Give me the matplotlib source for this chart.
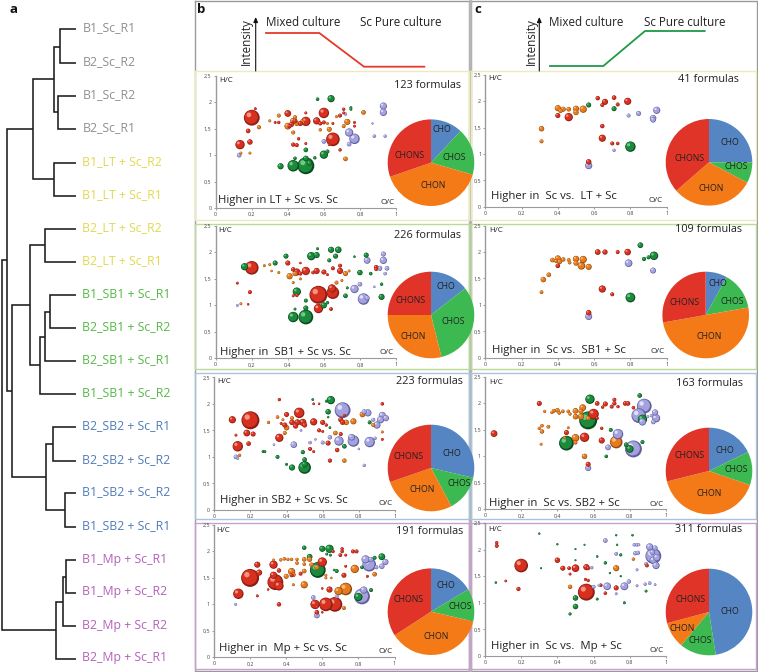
import matplotlib
matplotlib.use("Agg")
import matplotlib.pyplot as plt
import numpy as np

plt.rcParams['font.family'] = ['Open Sans', 'DejaVu Sans']

W, H = 758, 672
CLASSES = ["CHO", "CHOS", "CHON", "CHONS"]
PIE_COL = {"CHO": "#5585c2", "CHOS": "#3cb950", "CHON": "#f47a17", "CHONS": "#e03428"}
SPHERE = {"CHONS": ("#8a1f16", "#d8301f", "#f39484"),
          "CHON": ("#8a4c12", "#e87a1c", "#f8bd85"),
          "CHOS": ("#0b4a1e", "#1b8a3a", "#6ccb88"),
          "CHO": ("#5f5f9c", "#a3a2de", "#e0e0fa")}

# ---- dendrogram -------------------------------------------------------
leaf_names = ["B1_Sc_R1", "B2_Sc_R2", "B1_Sc_R2", "B2_Sc_R1", "B1_LT + Sc_R2", "B1_LT + Sc_R1",
              "B2_LT + Sc_R2", "B2_LT + Sc_R1", "B1_SB1 + Sc_R1", "B2_SB1 + Sc_R2",
              "B2_SB1 + Sc_R1", "B1_SB1 + Sc_R2", "B2_SB2 + Sc_R1", "B2_SB2 + Sc_R2",
              "B1_SB2 + Sc_R2", "B1_SB2 + Sc_R1", "B1_Mp + Sc_R1", "B1_Mp + Sc_R2",
              "B2_Mp + Sc_R2", "B2_Mp + Sc_R1"]
leaf_groups = ["#8f8f8f"] * 4 + ["#e3d84e"] * 4 + ["#55b848"] * 4 + ["#4f7cba"] * 4 + ["#b45fbb"] * 4
leaf_y = [29, 62.7, 96, 129, 162.5, 195.5, 228.5, 262, 295, 328, 361, 393.7, 427, 460.7, 493, 526.7,
          560, 592.7, 626, 659]
# merge height, top child (height, y), bottom child (height, y)
merges = [(60, (76, 29), (76, 62.7)), (58.3, (76, 96), (76, 129)),
          (54.3, (60, 46.7), (58.3, 112.3)), (53.7, (76, 162.5), (76, 195.5)),
          (32.7, (54.3, 79.3), (53.7, 179)), (45, (76, 228.5), (76, 262)),
          (50, (76, 295), (76, 328)), (45, (50, 311.7), (76, 361)),
          (39.7, (45, 336.7), (76, 393.7)), (29.7, (45, 245.3), (39.7, 365)),
          (53, (76, 427), (76, 460.7)), (64.7, (76, 493), (76, 526.7)),
          (45.7, (53, 443.7), (64.7, 510.3)), (11.7, (29.7, 305), (45.7, 476.7)),
          (7, (32.7, 129), (11.7, 390.7)), (66, (76, 560), (76, 592.7)),
          (63.3, (66, 576.7), (76, 626)), (56, (63.3, 601.7), (76, 659)),
          (1.7, (7, 260), (56, 630))]

# ---- bubbles: (O/C, H/C, radius) --------------------------------------
b1_chons = [(0.2,1.71,7),(0.135,1.2,4),(0.19,1.25,2.2),(0.18,1.46,1.8),(0.22,1.88,1),(0.4,1.79,2.8),(0.6,1.8,4.5),(0.65,1.3,6),(0.5,1.64,4),(0.56,1.65,3),(0.43,1.2,1.6),(0.45,1.19,1.5),(0.46,1.31,1.2),(0.5,1.22,1),(0.5,1.8,1),(0.44,1.65,2),(0.42,1.58,2),(0.41,1.55,1.5),(0.47,1.6,2),(0.33,1.62,1),(0.35,1.62,1.2),(0.6,1.62,1.5),(0.69,1.75,1.5),(0.71,1.87,1.2),(0.71,1.8,1),(0.77,1.62,1),(0.77,1.55,1),(0.65,1.6,1),(0.58,1.6,1.5),(0.63,1.2,1),(0.69,1.1,1.2)]
b1_chon = [(0.24,1.53,1.6),(0.19,1.04,1),(0.14,1.04,1),(0.3,1.65,1),(0.35,1.75,1.5),(0.4,1.55,2.8),(0.43,1.65,2.5),(0.44,1.72,1.5),(0.45,1.6,2),(0.48,1.63,2),(0.43,1.43,1.5),(0.63,1.49,2),(0.58,1.48,1.2),(0.73,1.63,2.5),(0.71,1.55,1.5),(0.72,0.93,1.8),(0.82,1.81,1.8),(0.62,1.6,1),(0.67,1.73,1)]
b1_chos = [(0.64,2.07,3),(0.565,2.06,1.3),(0.75,1.9,1),(0.75,1.87,1),(0.36,0.79,2.5),(0.43,0.8,5),(0.5,0.8,7.5),(0.5,0.94,2.2),(0.44,0.94,1.3),(0.5,1.1,1.8),(0.6,1.01,3.5),(0.62,1.07,1.5),(0.55,0.95,1.2),(0.52,0.85,2)]
b1_cho = [(0.93,1.93,3),(0.93,1.81,3),(0.74,1.43,3.5),(0.77,1.31,4.5),(0.74,1.21,1.8),(0.6,1.26,1.8),(0.13,1.0,1.8),(0.88,1.36,1.3),(0.94,1.36,1.2),(0.87,1.6,0.7),(0.72,1.78,1.2)]

c1_chons = [(0.4,1.73,2),(0.46,1.7,3.5),(0.62,2.06,1.7),(0.66,1.99,2.5),(0.645,1.93,1.5),(0.71,2.07,1.8),(0.73,1.94,1.5),(0.785,2.0,3),(0.645,1.53,1.7),(0.645,1.3,3),(0.7,1.2,1.5),(0.73,1.2,1.3),(0.57,0.85,2.2)]
c1_chon = [(0.31,1.48,2.2),(0.31,1.24,1.5),(0.4,1.87,2.5),(0.415,1.82,1.7),(0.43,1.85,2),(0.46,1.85,1.8),(0.5,1.86,2.5),(0.5,1.79,2.2),(0.54,1.85,3)]
c1_chos = [(0.57,1.93,2),(0.71,1.86,2),(0.8,1.14,4.5)]
c1_cho = [(0.57,0.78,3),(0.71,1.07,1.2),(0.79,1.73,1.5),(0.845,1.77,2),(0.925,1.68,2.7),(0.925,1.65,2.3),(0.945,1.83,3)]

b2_chons = [(0.2,1.71,6),(0.57,1.2,8),(0.65,1.24,5.5),(0.645,1.32,3.5),(0.57,0.94,4),(0.19,1.25,1.5),(0.12,1.42,1),(0.18,1.02,.8),(0.4,1.8,2),(0.5,1.65,3.5),(0.56,1.65,2.5),(0.6,1.63,2),(0.45,1.63,3),(0.43,1.68,1.7),(0.47,1.6,1.5),(0.65,1.7,1.5),(0.69,1.65,2.5),(0.69,1.75,1.5),(0.45,1.19,1.3),(0.43,1.18,1),(0.64,0.93,1.4),(0.89,1.72,1.8),(0.89,1.68,1.3),(0.47,1.8,.8),(0.54,1.62,1.3),(0.62,1.58,1)]
b2_chon = [(0.14,1.03,1),(0.27,1.75,1),(0.3,1.77,1),(0.31,1.65,.8),(0.35,1.62,1),(0.41,1.55,2.5),(0.44,1.6,2),(0.43,1.43,1),(0.47,1.5,1),(0.67,1.43,1.5),(0.72,1.6,2),(0.74,1.65,1),(0.7,1.47,1)]
b2_chos = [(0.16,1.73,3),(0.33,1.8,2),(0.39,1.93,2),(0.53,1.93,3.5),(0.56,1.95,2.5),(0.565,2.07,1),(0.64,2.05,2.5),(0.68,2.05,2.7),(0.665,1.93,2),(0.63,1.85,1.5),(0.45,1.26,3.5),(0.5,1.09,1.5),(0.43,0.78,4.5),(0.5,0.78,6.5),(0.5,0.95,2),(0.44,0.93,1),(0.6,1.0,2.5),(0.62,1.05,1.2),(0.72,1.18,1.8),(0.8,1.62,2.2),(0.835,1.95,2),(0.86,1.6,1.3),(0.92,1.16,2.5),(0.92,1.4,1.2),(0.73,1.33,1),(0.77,1.92,.8)]
b2_cho = [(0.12,1.0,1),(0.77,1.31,3.5),(0.8,1.4,1.8),(0.82,1.12,5),(0.84,1.14,2),(0.84,1.85,2.8),(0.93,1.85,3),(0.93,1.97,2),(0.91,1.7,2),(0.95,1.7,1.8),(0.94,1.6,1.3),(0.88,1.35,.8)]

c2_chons = [(0.4,1.74,1.8),(0.62,2.0,2.3),(0.66,2.0,2.1),(0.73,2.0,1.5),(0.785,2.0,2.7),(0.645,1.3,3),(0.7,1.2,1.5),(0.57,0.85,2.2)]
c2_chon = [(0.31,1.24,1.4),(0.32,1.48,2.2),(0.35,1.57,1.8),(0.37,1.85,1.8),(0.39,1.83,1.5),(0.4,1.88,2.5),(0.41,1.82,2),(0.43,1.86,1.7),(0.46,1.85,1.4),(0.465,1.8,1.3),(0.5,1.87,2.6),(0.5,1.79,2),(0.54,1.86,3),(0.53,1.74,3.2),(0.57,1.72,2.5)]
c2_chos = [(0.855,2.13,2.3),(0.875,1.87,1.6),(0.9,1.9,1.5),(0.93,1.93,3.6),(0.8,1.14,4.2)]
c2_cho = [(0.79,1.79,3.2),(0.925,1.65,2.4),(0.57,0.78,2.9)]

b3_chons = [(0.2,1.69,8),(0.1,1.7,3),(0.13,1.2,4.5),(0.18,1.45,2.8),(0.215,1.43,2),(0.19,1.25,1.8),(0.12,1.41,1),(0.36,1.36,3.5),(0.47,1.83,4.5),(0.36,2.08,1.2),(0.4,1.8,2),(0.39,1.6,2),(0.43,1.65,2.2),(0.46,1.65,2.5),(0.45,1.58,2),(0.49,1.65,3),(0.5,1.6,2),(0.55,1.66,3),(0.6,1.65,2),(0.58,1.5,1.5),(0.6,1.48,1),(0.62,1.6,1.2),(0.7,1.7,2),(0.71,1.65,2),(0.7,1.43,1.5),(0.63,1.26,2),(0.68,1.13,1.7),(0.53,1.15,1.5),(0.55,1.1,1),(0.64,0.93,1.6),(0.93,2.0,1.3),(0.93,1.33,1),(0.55,2.0,.9),(0.58,2.0,.8),(0.72,1.78,1.2),(0.37,1.63,1)]
b3_chon = [(0.3,1.65,1.2),(0.35,1.75,1.3),(0.38,1.7,1),(0.4,1.55,2.2),(0.39,1.45,1.5),(0.43,1.73,1.5),(0.67,1.45,1.8),(0.73,1.65,2.2),(0.77,1.67,2.5),(0.82,1.8,2.3),(0.72,0.93,1.7),(0.14,1.03,1.2),(0.88,1.6,1.5),(0.93,1.47,1)]
b3_chos = [(0.645,2.07,3.5),(0.62,2.05,1),(0.545,2.08,.9),(0.63,1.85,2.2),(0.49,1.09,1.6),(0.5,0.95,1.8),(0.35,1,1.5),(0.43,0.8,2.5),(0.5,0.8,5.5),(0.5,0.86,2.5),(0.4,.86,1),(0.72,1.2,1.8),(0.64,1.55,.9),(0.27,1.1,1),(0.28,1.1,1),(0.86,1.65,1.5),(0.63,1.75,.8)]
b3_cho = [(0.71,1.88,7),(0.85,1.83,3),(0.83,1.85,2),(0.93,1.78,3),(0.92,1.7,3),(0.95,1.73,2.5),(0.9,1.6,3),(0.88,1.7,1.5),(0.69,1.3,4),(0.77,1.3,5),(0.76,1.37,2.8),(0.86,1.28,4.5),(0.89,1.35,1.2),(0.44,1.23,2.7),(0.53,1.27,1.3),(0.6,1.27,1.5),(0.12,1,1.8),(0.13,.97,.9),(0.83,.84,1.2),(0.33,1.23,.8),(0.48,1.5,.9),(0.64,1.37,1.7),(0.56,1.33,.8),(0.8,1.15,.8)]

c3_chons = [(0.05,1.43,2.8),(0.3,2,2),(0.62,2.0,1.8),(0.65,1.93,1.2),(0.665,1.99,2),(0.7,1.94,1.5),(0.715,2.07,1.5),(0.715,2,1.6),(0.735,1.94,1.2),(0.775,2,1.8),(0.79,2,1.8),(0.82,1.92,1.3),(0.6,1.8,4.5),(0.55,1.36,4),(0.45,1.45,2),(0.645,1.3,2.5),(0.645,1.53,1.2),(0.57,.85,2),(0.62,1.72,1.2)]
c3_chon = [(0.3,1.53,1.2),(0.315,1.58,1.3),(0.315,1.47,1.7),(0.35,1.56,1.4),(0.33,1.85,1.1),(0.37,1.83,1.2),(0.38,1.86,1.5),(0.4,1.87,1.8),(0.41,1.82,1.3),(0.43,1.85,1.4),(0.46,1.85,1.3),(0.47,1.8,1.2),(0.5,1.86,2.3),(0.5,1.75,2.2),(0.53,1.85,2),(0.54,1.92,2.8),(0.53,1.75,2.5),(0.57,1.72,1.8),(0.31,1.23,1),(0.46,1.54,1),(0.5,1.35,3.2),(0.5,1.26,1.5),(0.44,1.35,1),(0.55,1.0,2.2),(0.725,1.27,5.5)]
c3_chos = [(0.58,2.08,4),(0.57,1.68,8),(0.45,1.25,6.5),(0.87,1.7,4),(0.855,2.15,1.8),(0.67,1.0,1.3),(0.8,1.14,3.2),(0.78,1.22,1.8),(0.87,1.27,1.5),(0.695,1.5,1.5)]
c3_cho = [(0.88,1.95,6.5),(0.85,1.77,6.5),(0.87,1.65,3),(0.94,1.83,2.5),(0.945,1.72,3.5),(0.93,1.65,1.8),(0.92,1.77,1.2),(0.735,1.42,4.5),(0.68,1.17,2.3),(0.82,1.14,7.5),(0.57,.78,2.5),(0.9,1.75,1)]

b4_chons = [(0.2,1.5,8),(0.135,1.2,4.5),(0.24,1.75,2.5),(0.25,1.6,2.5),(0.33,1.75,3.5),(0.33,1.55,3),(0.34,1.42,7),(0.36,1.35,4),(0.36,1.64,1.7),(0.24,1.16,1),(0.36,1,1.7),(0.56,1.0,4),(0.62,1,6),(0.67,1,6.5),(0.64,1.28,2.5),(0.6,1.8,4),(0.57,0.85,1.8),(0.6,.85,.8),(0.57,.95,1),(0.48,1.58,1.5),(0.43,1.55,1.5),(0.7,1.93,1.4),(0.71,2.05,1.2),(0.71,2.0,1.3),(0.66,2.0,1.2),(0.73,1.93,1),(0.77,2,1.5),(0.79,2,1.5),(0.72,1.55,2),(0.73,1.72,1),(0.85,1.53,1),(0.3,1.28,.8),(0.6,1.3,.8)]
b4_chon = [(0.4,1.53,2),(0.43,1.62,3),(0.44,1.56,1.8),(0.44,1.37,1),(0.5,1.63,1.8),(0.5,1.37,3),(0.33,1.84,.9),(0.37,1.84,1.2),(0.39,1.86,1.3),(0.41,1.85,1.2),(0.43,1.85,1.2),(0.46,1.85,1.2),(0.46,1.78,1.3),(0.5,1.85,1.8),(0.5,1.76,1.3),(0.53,1.85,2),(0.54,1.75,1.7),(0.57,1.7,2),(0.62,1.55,1),(0.62,1.5,1),(0.69,1.25,3.5),(0.73,1.29,5.5),(0.72,.93,1.5),(0.78,1.67,3.5),(0.89,1.57,1.8),(0.65,1.5,.8)]
b4_chos = [(0.575,1.65,7),(0.5,2.07,1.7),(0.53,1.9,2.3),(0.6,2.05,2.5),(0.64,2.05,3.5),(0.625,1.95,1),(0.645,1.93,1),(0.68,1.63,1.5),(0.87,1.27,1.5),(0.8,1.14,3.5),(0.82,1.7,1.3),(0.89,1.88,1.5),(0.93,1.9,2.8),(0.665,1.65,.8)]
b4_cho = [(0.12,1,1),(0.84,1.85,3.5),(0.86,1.75,6),(0.87,1.85,2),(0.9,1.7,1.5),(0.93,1.72,2.2),(0.95,1.8,2.5),(0.82,1.15,7),(0.83,1.27,3),(0.55,1.13,1.8),(0.57,0.79,2.3),(0.68,1.15,1.5)]

c4_chons = [(0.065,2.13,1.2),(0.065,2.07,1.5),(0.2,1.7,6),(0.185,1.26,1.6),(0.115,1.41,.9),(0.4,1.8,2.2),(0.43,1.65,2),(0.465,1.65,1.4),(0.5,1.65,3.2),(0.56,1.67,2.5),(0.57,1.65,1.5),(0.47,1.54,1),(0.555,1.44,1.1),(0.57,1.42,1.2),(0.56,1.2,7.5),(0.64,1.33,1.3),(0.665,1.18,1.3),(0.725,1.28,2),(0.895,1.7,1.4)]
c4_chon = [(0.725,1.65,2.5),(0.47,1.3,1.7),(0.82,1.82,1.2)]
c4_chos = [(0.5,1.09,2.2),(0.5,.93,2.2),(0.47,.79,1.1),(0.62,1.07,1),(0.77,1.0,1),(0.89,1.22,1),(0.665,1.75,1.2),(0.75,1.9,1.1),(0.62,1.87,.8),(0.69,1.56,.7),(0.75,1.5,.7),(0.3,2.3,.7),(0.4,2.1,.7),(0.5,2.01,.6),(0.55,2.09,.6),(0.725,2.27,.7),(0.73,2.09,.7),(0.815,2.27,.8),(0.5,1.8,.6),(0.31,1.65,.6),(0.06,1.38,.8)]
c4_cho = [(0.665,2.17,1.8),(0.725,1.92,1.4),(0.825,2.09,1.3),(0.84,2.09,1.3),(0.85,2.09,1),(0.83,1.93,1.6),(0.845,1.94,1.6),(0.91,2.05,3),(0.94,2.03,2),(0.93,1.88,7),(0.93,1.8,3),(0.95,1.85,3),(0.945,1.7,3),(0.89,1.73,1.5),(0.925,1.95,2.2),(0.675,1.31,3.2),(0.77,1.31,3.3),(0.795,1.4,1.7),(0.63,1.33,1),(0.59,1.66,1.2),(0.6,1.3,1.5),(0.725,1.17,1),(0.84,1.32,1),(0.885,1.35,1.2),(0.91,1.37,1.3),(0.94,1.34,.9),(0.84,1.62,1)]

# ---- pie shares in order CHO, CHOS, CHON, CHONS -----------------------
b1_pie = [43, 63, 145, 109]
c1_pie = [90, 28, 111, 131]
b2_pie = [52, 114, 104, 90]
c2_pie = [29, 51, 180, 100]
b3_pie = [103, 49, 99, 109]
c3_pie = [64, 45, 147, 104]
b4_pie = [59, 44, 134, 123]
c4_pie = [171, 49, 35, 105]

n_formulas = [123, 41, 226, 109, 223, 163, 191, 311]
titles = ["Higher in LT + Sc vs. Sc", "Higher in  Sc vs.  LT + Sc", "Higher in  SB1 + Sc vs. Sc",
          "Higher in  Sc vs.  SB1 + Sc", "Higher in SB2 + Sc vs. Sc", "Higher in  Sc vs. SB2 + Sc",
          "Higher in  Mp + Sc vs. Sc", "Higher in  Sc vs.  Mp + Sc"]
x_ticks = [0, 0.2, 0.4, 0.6, 0.8, 1]
x_ticklabels = ["0", "0,2", "0,4", "0,6", "0,8", "1"]
y_ticks = [0, 0.5, 1, 1.5, 2, 2.5]
y_ticklabels = ["0", "0,5", "1", "1,5", "2", "2,5"]

panels = [
    # bubbles, pie, axes px (x0,x1,ytop,ybottom), pie centre, title xy, H/C xy, O/C right/y, formula right/y
    ((b1_cho, b1_chos, b1_chon, b1_chons), b1_pie, (215.7, 396, 76, 208), (431, 162.7), (218.3, 200.7), (219.3, 80), (395, 202), (461, 85)),
    ((c1_cho, c1_chos, c1_chon, c1_chons), c1_pie, (485.3, 666.7, 75, 206.7), (709, 162.3), (490.7, 196), (488, 78), (662.7, 200), (739, 80)),
    ((b2_cho, b2_chos, b2_chon, b2_chons), b2_pie, (215.7, 396, 226, 358.3), (431, 315), (220.3, 352), (218.7, 231), (394, 352.7), (461, 235)),
    ((c2_cho, c2_chos, c2_chon, c2_chons), c2_pie, (485.3, 666.7, 225.7, 357.7), (705.7, 315), (491.7, 350), (489.3, 230), (665, 351.7), (741.7, 230)),
    ((b3_cho, b3_chos, b3_chon, b3_chons), b3_pie, (214.3, 395, 377.3, 510), (431, 468), (220.3, 500), (217.7, 381.7), (393, 503.7), (463, 381)),
    ((c3_cho, c3_chos, c3_chon, c3_chons), c3_pie, (485, 666, 377, 509.3), (709, 471), (489.3, 503.3), (489, 382.7), (664, 504.3), (742.7, 383)),
    ((b4_cho, b4_chos, b4_chon, b4_chons), b4_pie, (214, 394.5, 525, 657.3), (431, 611.7), (219.3, 648.3), (216.7, 530), (392.3, 651.7), (463, 531)),
    ((c4_cho, c4_chos, c4_chon, c4_chons), c4_pie, (485, 666, 523, 656), (709, 612), (490.7, 646), (488.7, 529.3), (663.3, 650.7), (741.7, 530)),
]
# pie label offsets from the pie centre in px, CHO, CHOS, CHON, CHONS
pie_label_px = [
    [(11.3, -33), (23.3, -5.3), (2.3, 22.3), (-21, -7.3)],
    [(21, -19.7), (27, 4.3), (2, 26), (-19.7, -4)],
    [(14.7, -28.3), (22, 6), (-17.7, 21.7), (-20.3, -14.3)],
    [(12.3, -31.7), (26.3, -13.3), (3.7, 21.7), (-21.3, -12.3)],
    [(20.7, -14.3), (28, 16), (-9.3, 21.3), (-22.7, -11.7)],
    [(16, -20.7), (27, -1), (0.3, 22.3), (-19, -15)],
    [(14.7, -26.7), (29.7, -5), (5.3, 25), (-22.3, -12.7)],
    [(21, 0), (-8.3, 28.7), (-27, 16.3), (-18.3, -12)],
]
box_rows = [("#ecebb9", 71, 220), ("#bcd89c", 224, 369), ("#a9c3dc", 373, 519), ("#c79fd0", 522.7, 669)]

fig = plt.figure(figsize=(W / 100, H / 100), dpi=100, facecolor="white")
bg = fig.add_axes([0, 0, 1, 1], zorder=0)
bg.set_xlim(0, W); bg.set_ylim(H, 0); bg.axis("off")
top = fig.add_axes([0, 0, 1, 1], zorder=10)
top.set_xlim(0, W); top.set_ylim(H, 0); top.axis("off"); top.patch.set_alpha(0)

# outer frames and coloured boxes
for x0, x1 in [(194.5, 469), (470.5, 757)]:
    bg.plot([x0, x1, x1, x0, x0], [0.7, 0.7, 671, 671, 0.7], color="#9a9a9a", lw=1.0)
bg.plot([469.7, 469.7], [0.7, 671], color="#b5b5b5", lw=2.0)
for col, y0, y1 in box_rows:
    for x0, x1 in [(195, 468.5), (471, 755.7)]:
        bg.plot([x0, x1, x1, x0, x0], [y0, y0, y1, y1, y0], color=col, lw=1.0)

# dendrogram
DK = "#1c1c1c"
for h, (hc1, y1), (hc2, y2) in merges:
    top.plot([hc1, h, h, hc2], [y1, y1, y2, y2], color=DK, lw=1.15, solid_joinstyle="miter", solid_capstyle="butt")
for name, col, y in zip(leaf_names, leaf_groups, leaf_y):
    top.text(82.5, y - 1, name, color=col, fontsize=8.8, ha="left", va="center")

for s, x in [("a", 10), ("b", 197), ("c", 474)]:
    top.text(x, 9.5, s, fontsize=9.5, fontweight="bold", color="#111111", ha="left", va="center")

# schematic intensity profiles
schemes = [(246.7, 255.7, 265.7, 360, [266, 319.3, 364, 424.3], [33, 33, 66.7, 66.7], "#e4392c"),
           (531.7, 539.3, 548.7, 643.7, [550, 603.3, 645, 704.7], [66, 66, 31, 31], "#1f9a46")]
for xi, xa, xm, xp, lx, ly, col in schemes:
    top.text(xi, 42, "Intensity", rotation=90, fontsize=8.4, color="#222222", ha="center", va="center")
    top.annotate("", xy=(xa, 17), xytext=(xa, 71),
                 arrowprops=dict(arrowstyle="-|>,head_width=0.13,head_length=0.3", lw=0.8, color="#111111", shrinkA=0, shrinkB=0))
    top.text(xm, 22, "Mixed culture", fontsize=8.4, color="#222222", ha="left", va="center")
    top.text(xp, 22, "Sc Pure culture", fontsize=8.4, color="#222222", ha="left", va="center")
    top.plot(lx, ly, color=col, lw=1.3)


def px_axes(x0, x1, ytop, ybot, z):
    return fig.add_axes([x0 / W, 1 - ybot / H, (x1 - x0) / W, (ybot - ytop) / H], zorder=z)


for i, (groups, pie, (x0, x1, yt, yb), pc, tp, hp, op, fp) in enumerate(panels):
    ax = px_axes(x0, x1, yt, yb, 2)
    ax.set_xlim(0, 1); ax.set_ylim(0, 2.5)
    ax.patch.set_alpha(0)
    for sp in ("top", "right"):
        ax.spines[sp].set_visible(False)
    ax.spines["left"].set_color("#9a9a9a"); ax.spines["left"].set_linewidth(1.0)
    ax.spines["bottom"].set_color("#9a9a9a"); ax.spines["bottom"].set_linewidth(0.8)
    ax.set_xticks(x_ticks); ax.set_xticklabels(x_ticklabels)
    ax.set_yticks(y_ticks); ax.set_yticklabels(y_ticklabels)
    ax.tick_params(length=1.5, width=0.5, color="#777777", labelsize=3.9, labelcolor="#444444", pad=1.5)

    pts = []
    for cls, g in zip(CLASSES, groups):
        for p in g:
            pts.append((p[0], p[1], p[2], cls))
    pts.sort(key=lambda t: -t[2])
    xs, ys, ss, cs = [], [], [], []
    ppx, ppy = (x1 - x0), (yb - yt) / 2.5
    for x, y, r, cls in pts:
        d, m, l = SPHERE[cls]
        r = r * 1.08 + 0.35
        for frac, off, c in [(1.0, 0, d), (0.84, 0.07, m), (0.3, 0.36, l)]:
            xs.append(x - off * r / ppx); ys.append(y + off * r / ppy)
            ss.append((2 * r * frac * 0.72) ** 2); cs.append(c)
    ax.scatter(xs, ys, s=ss, c=cs, linewidths=0, clip_on=False, zorder=3)

    R = 43.3
    pa = px_axes(pc[0] - R, pc[0] + R, pc[1] - R, pc[1] + R, 5)
    pa.set_aspect("equal"); pa.axis("off")
    wedges, _ = pa.pie(pie, startangle=90, counterclock=False, radius=1,
                       colors=[PIE_COL[c] for c in CLASSES],
                       wedgeprops=dict(linewidth=0), center=(0, 0), frame=False)
    pa.set_xlim(-1, 1); pa.set_ylim(-1, 1)
    for cls, (ox, oy) in zip(CLASSES, pie_label_px[i]):
        pa.text(ox / R, -oy / R, cls, fontsize=6.3, color="#222222", ha="center", va="center")

    top.text(tp[0], tp[1], titles[i], fontsize=8.2, color="#222222", ha="left", va="center")
    top.text(hp[0], hp[1], "H/C", fontsize=5.8, color="#222222", ha="left", va="center")
    top.text(op[0], op[1], "O/C", fontsize=5.8, color="#222222", ha="right", va="center")
    top.text(fp[0], fp[1], f"{n_formulas[i]} formulas", fontsize=7.8, color="#222222", ha="right", va="center")

fig.savefig("out.png", dpi=100)
